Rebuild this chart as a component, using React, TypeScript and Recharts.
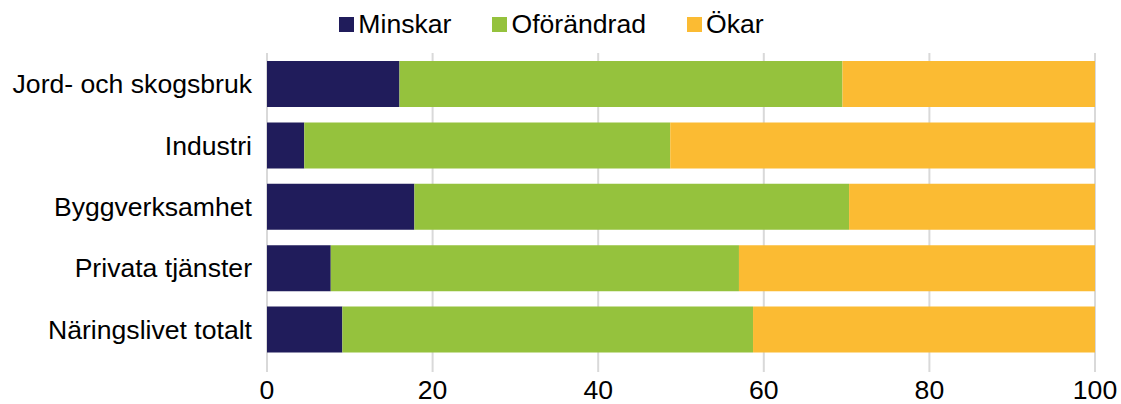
import React from 'react';
import { BarChart, Bar, XAxis, YAxis, CartesianGrid, Legend } from 'recharts';

const sectors = ['Jord- och skogsbruk', 'Industri', 'Byggverksamhet', 'Privata tjänster', 'Näringslivet totalt'];
const minskar = [16.0, 4.5, 17.8, 7.7, 9.1];
const oforandrad = [53.5, 44.2, 52.5, 49.3, 49.6];
const okar = [30.5, 51.3, 29.7, 43.0, 41.3];
const xTicks = [0, 20, 40, 60, 80, 100];

const FONT = '"Liberation Sans", Arial, sans-serif';
const FONT_SIZE = 26.6;

const data = sectors.map((sector, i) => ({
  sector,
  Minskar: minskar[i],
  Oförändrad: oforandrad[i],
  Ökar: okar[i],
}));

const LegendContent = ({ payload }: any) => (
  <div style={{ display: 'flex', justifyContent: 'center', alignItems: 'center', height: 40, marginLeft: 49 }}>
    {(payload || []).map((item: any) => (
      <div key={item.value} style={{ display: 'flex', alignItems: 'center', marginRight: 41 }}>
        <span style={{ display: 'inline-block', width: 15, height: 15, background: item.color, marginRight: 4 }} />
        <span style={{ fontFamily: FONT, fontSize: FONT_SIZE, color: '#000' }}>{item.value}</span>
      </div>
    ))}
  </div>
);

const App = () => (
  <div style={{ position: 'absolute', left: 0, top: 0 }}>
    <BarChart
      width={1121}
      height={404}
      data={data}
      layout="vertical"
      barSize={46}
      margin={{ top: 13, right: 26, bottom: 0, left: 0 }}
    >
      <CartesianGrid horizontal={false} stroke="#d9d9d9" strokeWidth={2} />
      <XAxis
        type="number"
        domain={[0, 100]}
        ticks={xTicks}
        axisLine={false}
        tickLine={{ stroke: '#d9d9d9', strokeWidth: 2 }}
        tickSize={12}
        tickMargin={8}
        height={44}
        tick={{ fill: '#000', fontSize: FONT_SIZE, fontFamily: FONT }}
      />
      <YAxis
        type="category"
        dataKey="sector"
        width={267}
        axisLine={false}
        tickLine={false}
        tickMargin={9}
        tick={{ fill: '#000', fontSize: FONT_SIZE, fontFamily: FONT }}
      />
      <Legend verticalAlign="top" wrapperStyle={{ top: 4 }} content={<LegendContent />} />
      <Bar dataKey="Minskar" stackId="a" fill="#201c5b" isAnimationActive={false} />
      <Bar dataKey="Oförändrad" stackId="a" fill="#95c23d" isAnimationActive={false} />
      <Bar dataKey="Ökar" stackId="a" fill="#fbbb33" isAnimationActive={false} />
    </BarChart>
  </div>
);

export default App;
